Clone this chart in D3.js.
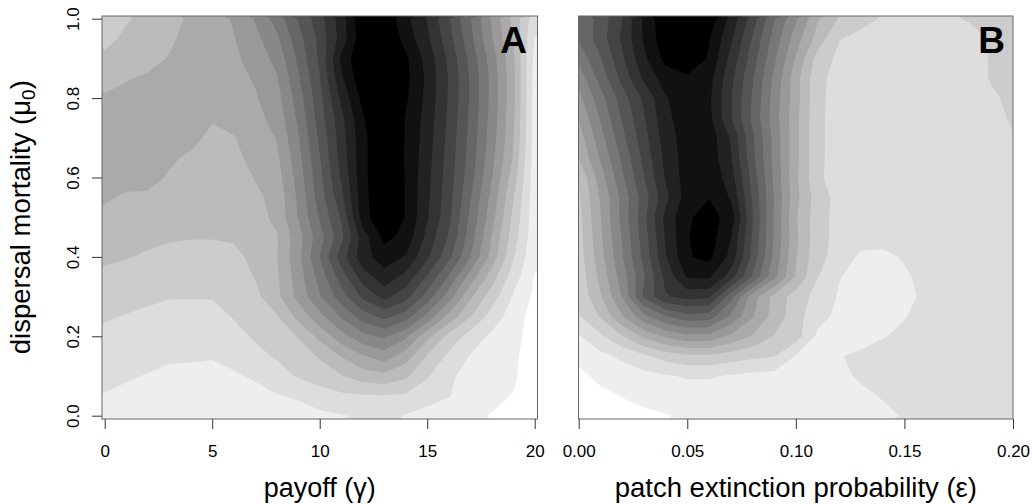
<!DOCTYPE html>
<html>
<head>
<meta charset="utf-8">
<script src="https://cdn.jsdelivr.net/npm/d3@7"></script>
<style>
  html,body{margin:0;padding:0;background:#ffffff;}
  svg text{font-family:"Liberation Sans",Arial,Helvetica,sans-serif;fill:#000;}
</style>
</head>
<body>
<svg id="chart" width="1032" height="504" xmlns="http://www.w3.org/2000/svg"></svg>
<script>
// ---------------- data ----------------
const payoffGrid = [0,1,2,3,4,5,6,7,8,9,10,11,12,13,14,15,16,17,18,19,20];
const extinctionGrid = [0,0.01,0.02,0.03,0.04,0.05,0.06,0.07,0.08,0.09,0.10,0.11,0.12,0.13,0.14,0.15,0.16,0.17,0.18,0.19,0.20];
const mortalityGrid = [1.00,0.95,0.90,0.85,0.80,0.75,0.70,0.65,0.60,0.55,0.50,0.45,0.40,0.35,0.30,0.25,0.20,0.15,0.10,0.05,0.00];
const payoffTicks = [0,5,10,15,20];
const extinctionTicks = [0,0.05,0.10,0.15,0.20];
const mortalityTicks = [0,0.2,0.4,0.6,0.8,1.0];
const grayLevels = ["#000000","#111111","#222222","#333333","#444444","#555555","#666666","#777777",
                    "#888888","#999999","#aaaaaa","#bbbbbb","#cccccc","#dddddd","#eeeeee","#ffffff"];
const bandThresholds = [0.5,1.5,2.5,3.5,4.5,5.5,6.5,7.5,8.5,9.5,10.5,11.5,12.5,13.5,14.5];

// grey level (0 = black ... 15 = white); rows from mu0 = 1.0 down to 0.0
const panelALevels = [
 [12.0,11.6,11.2,10.8,10.35,9.9,9.4,8.4,7.1,5.45,3.9,2.0,-0.3,-0.3,1.2,2.55,4.4,6.45,8.65,10.8,13.1],
 [11.8,11.3,11.0,10.65,10.2,9.85,9.55,8.8,7.7,5.9,4.2,2.1,-0.2,-0.6,0.9,2.3,4.1,6.2,8.4,10.6,13.55],
 [11.3,10.9,10.75,10.45,10.05,9.8,9.7,9.1,8.2,6.3,4.3,1.3,-0.5,-0.8,0.3,1.9,3.7,5.8,8.0,10.3,13.8],
 [10.8,10.55,10.4,10.25,9.95,9.8,9.85,9.4,8.6,6.65,4.55,1.7,-0.3,-0.8,0.2,1.7,3.55,5.6,7.8,10.2,13.9],
 [10.4,10.3,10.2,10.1,9.9,9.9,10.0,9.6,8.9,7.0,4.8,2.3,0.2,-0.6,0.35,1.8,3.6,5.6,7.8,10.2,13.95],
 [10.2,10.15,10.05,9.95,9.9,10.4,10.2,9.8,9.15,7.3,5.0,2.8,0.6,-0.5,0.55,1.9,3.7,5.7,7.9,10.3,14.0],
 [10.1,10.05,9.95,10.05,10.2,10.75,10.55,10.0,9.45,7.6,5.3,3.0,0.8,-0.5,0.55,2.0,3.8,5.8,8.0,10.4,14.0],
 [10.1,10.05,9.95,10.35,10.65,10.95,10.75,10.2,9.7,7.85,5.55,3.1,0.8,-0.5,0.6,2.1,3.9,5.9,8.2,10.6,14.0],
 [10.2,10.25,10.2,10.6,10.9,11.1,10.95,10.45,9.95,8.1,5.8,3.4,0.8,-0.5,0.55,2.2,4.0,6.1,8.45,11.0,14.05],
 [10.4,10.6,10.65,10.85,11.1,11.25,11.1,10.7,10.2,8.3,6.0,3.8,0.9,-0.5,0.55,2.3,4.1,6.4,8.8,11.4,14.1],
 [10.7,10.9,10.95,11.1,11.3,11.4,11.25,10.9,10.25,8.45,6.4,4.4,1.0,-0.5,0.55,2.4,4.25,6.7,9.1,11.75,14.1],
 [11.0,11.2,11.3,11.4,11.45,11.45,11.4,11.1,10.6,8.9,6.9,4.8,2.0,0.2,0.8,2.8,4.6,7.0,9.55,12.0,14.2],
 [11.35,11.45,11.6,11.75,11.85,11.85,11.7,11.3,10.55,8.8,6.5,4.0,1.9,1.0,1.6,3.3,5.2,7.45,9.9,12.4,14.35],
 [11.7,11.8,11.95,12.1,12.1,12.2,12.0,11.45,10.65,9.0,7.1,5.0,3.0,1.9,2.8,4.6,6.6,8.9,11.0,13.0,14.55],
 [12.0,12.15,12.3,12.45,12.45,12.45,12.25,11.75,10.8,9.2,7.6,6.0,4.3,3.2,4.1,5.9,8.0,10.3,12.0,13.6,14.7],
 [12.4,12.55,12.7,12.8,12.8,12.8,12.45,12.1,11.6,10.2,8.8,7.4,6.0,5.2,6.0,7.8,9.8,11.45,12.9,14.0,14.9],
 [12.7,12.8,12.95,13.1,13.05,13.1,12.75,12.4,12.0,11.45,10.2,8.9,7.8,7.3,8.3,10.2,11.8,12.9,13.7,14.05,15.1],
 [13.0,13.05,13.2,13.4,13.4,13.45,13.25,12.75,12.4,11.95,11.4,10.45,9.6,9.0,10.0,11.6,12.7,13.55,14.1,14.25,15.2],
 [13.25,13.4,13.55,13.65,13.7,13.7,13.6,13.4,12.9,12.4,12.0,11.55,11.0,10.8,11.3,12.4,13.3,13.9,14.3,14.3,15.3],
 [13.55,13.7,13.8,13.85,13.9,13.9,13.85,13.75,13.55,13.4,13.0,12.7,12.6,12.55,12.65,13.1,13.45,14.0,14.25,14.55,15.4],
 [13.8,13.9,14.0,14.0,14.05,14.05,14.0,13.95,13.9,13.8,13.7,13.55,13.4,13.3,13.55,13.85,14.1,14.3,14.55,14.9,15.5]
];

// grey level; rows from mu0 = 1.0 down to 0.0
const panelBLevels = [
 [6.4,5.1,3.55,1.3,-0.3,-0.8,-0.2,1.8,4.0,6.4,8.35,10.4,11.6,12.2,12.6,12.8,12.75,12.6,12.45,12.3,12.1],
 [6.4,5.0,3.3,1.4,-0.2,-0.6,0.45,2.3,4.6,6.9,9.0,10.9,12.45,12.75,12.95,13.0,12.95,12.85,12.7,12.45,12.2],
 [7.2,5.55,3.7,1.7,0.2,-0.2,0.6,2.8,5.0,7.3,9.6,11.9,12.75,12.95,13.05,13.05,13.0,12.9,12.75,12.45,12.2],
 [8.1,6.1,4.2,2.3,1.0,0.65,1.1,3.2,5.4,7.7,10.1,12.25,12.85,13.0,13.05,13.05,13.05,12.95,12.8,12.45,12.25],
 [8.8,6.9,5.0,3.3,1.6,0.8,1.3,3.4,5.6,7.9,10.1,12.25,12.9,13.05,13.1,13.1,13.05,13.0,12.9,12.6,12.35],
 [9.45,7.4,5.4,3.6,1.8,0.85,1.2,3.4,5.7,8.0,10.2,12.3,12.9,13.05,13.1,13.1,13.05,13.0,12.95,12.75,12.4],
 [10.0,7.9,5.8,3.9,2.0,1.0,0.9,2.6,5.3,7.8,10.2,12.3,12.9,13.05,13.1,13.1,13.05,13.0,12.95,12.85,12.55],
 [10.45,8.4,6.3,4.2,2.2,1.0,0.85,2.4,5.2,7.8,10.2,12.3,12.9,13.05,13.1,13.1,13.05,13.0,13.0,12.9,12.7],
 [11.4,9.0,6.7,4.55,2.4,1.0,0.75,2.0,4.9,7.7,10.3,12.35,12.9,13.05,13.1,13.1,13.05,13.0,13.0,12.95,12.85],
 [11.65,9.4,7.2,5.0,2.8,1.0,0.55,1.6,4.6,7.55,10.2,12.0,12.85,13.05,13.1,13.1,13.05,13.0,13.0,13.0,12.95],
 [11.8,9.55,7.2,4.8,2.2,0.65,0.1,0.9,4.4,7.6,10.4,12.1,12.85,13.05,13.1,13.1,13.05,13.0,13.0,13.0,13.0],
 [11.9,9.7,7.4,5.0,2.4,0.55,0.0,1.45,4.6,7.6,10.3,12.1,12.85,13.05,13.1,13.1,13.05,13.0,13.0,13.0,13.0],
 [12.0,9.9,7.6,5.2,2.6,0.6,0.2,1.8,4.8,7.8,10.4,12.2,12.9,13.7,13.75,13.4,13.1,13.0,13.0,13.0,13.0],
 [12.15,10.2,8.0,5.6,3.2,1.4,1.3,3.0,5.6,8.2,10.6,12.45,13.45,13.85,13.9,13.65,13.2,13.05,13.0,13.0,13.0],
 [12.3,10.6,8.45,5.3,3.6,3.15,3.3,6.1,9.0,10.8,11.95,12.85,13.6,13.9,13.95,13.75,13.3,13.1,13.0,13.0,13.0],
 [12.6,11.4,9.6,7.8,6.55,5.85,6.0,7.7,9.4,10.9,12.1,13.15,13.75,13.95,13.95,13.55,13.2,13.05,13.0,13.0,13.0],
 [13.6,12.7,11.55,10.3,9.3,8.75,8.8,9.7,10.6,11.55,12.05,13.7,14.0,13.9,13.55,13.3,13.15,13.05,13.0,13.0,13.0],
 [14.2,13.75,13.3,12.7,12.1,11.7,11.7,12.0,12.3,12.45,13.55,13.9,13.55,13.3,13.15,13.05,13.0,13.0,13.0,13.0,13.0],
 [14.8,14.2,14.0,13.8,13.6,13.4,13.4,13.6,13.75,13.85,13.9,13.85,13.65,13.4,13.2,13.1,13.05,13.0,13.0,13.0,13.0],
 [15.2,14.8,14.45,14.2,14.1,14.0,14.0,14.0,14.0,14.0,14.0,13.95,13.85,13.65,13.45,13.25,13.1,13.05,13.0,13.0,13.0],
 [15.5,15.2,14.95,14.7,14.55,14.35,14.3,14.25,14.2,14.15,14.1,14.05,14.0,13.85,13.65,13.45,13.25,13.1,13.05,13.0,13.0]
];

// ---------------- layout ----------------
const svg = d3.select("#chart");
const plotTop = 16, plotBottom = 419;
const plotA = {left: 102, right: 537.5};
const plotB = {left: 578.5, right: 1013};
const yScale = d3.scaleLinear().domain([0, 1]).range([415.7, 18.7]);
const xScaleA = d3.scaleLinear().domain([0, 20]).range([104.7, 534.7]);
const xScaleB = d3.scaleLinear().domain([0, 0.2]).range([578.7, 1013]);

// where d3.contours puts a grid value inside its cell (calibration of the library convention)
const probe = d3.contours().size([2, 1]).thresholds([0.5])([0, 1]);
let probeMin = Infinity;
probe[0].coordinates.forEach(poly => poly.forEach(ring => ring.forEach(p => { if (p[0] < probeMin) probeMin = p[0]; })));
const cellOffset = probeMin - 0.5;

const defs = svg.append("defs");

function drawPanel(id, levels, gx, gy, xScale, plot) {
  const nx = gx.length, ny = gy.length;
  const values = [].concat(...levels);
  const stepX = gx[1] - gx[0], stepY = gy[1] - gy[0];
  const px = c => c <= 0 ? plot.left - 6 : (c >= nx ? plot.right + 6 : xScale(gx[0] + (c - cellOffset) * stepX));
  const py = c => c <= 0 ? plotTop - 6 : (c >= ny ? plotBottom + 6 : yScale(gy[0] + (c - cellOffset) * stepY));
  const proj = d3.geoTransform({ point(x, y) { this.stream.point(px(x), py(y)); } });
  const path = d3.geoPath(proj);

  defs.append("clipPath").attr("id", "clip" + id)
    .append("rect").attr("x", plot.left).attr("y", plotTop)
    .attr("width", plot.right - plot.left).attr("height", plotBottom - plotTop);

  const g = svg.append("g").attr("clip-path", "url(#clip" + id + ")");
  g.append("rect").attr("x", plot.left).attr("y", plotTop)
    .attr("width", plot.right - plot.left).attr("height", plotBottom - plotTop)
    .attr("fill", grayLevels[0]);

  const bands = d3.contours().size([nx, ny]).thresholds(bandThresholds)(values);
  g.selectAll("path.band").data(bands).join("path")
    .attr("class", "band")
    .attr("d", path)
    .attr("fill", d => grayLevels[Math.round(d.value + 0.5)]);

  svg.append("rect").attr("x", plot.left).attr("y", plotTop)
    .attr("width", plot.right - plot.left).attr("height", plotBottom - plotTop)
    .attr("fill", "none").attr("stroke", "#666").attr("stroke-width", 1);
}

drawPanel("A", panelALevels, payoffGrid, mortalityGrid, xScaleA, plotA);
drawPanel("B", panelBLevels, extinctionGrid, mortalityGrid, xScaleB, plotB);

// ---------------- axes ----------------
function styleAxis(g, size) {
  g.select(".domain").remove();
  g.selectAll(".tick line").attr("stroke", "#333");
  g.selectAll(".tick text").attr("font-size", size)
    .attr("font-family", '"Liberation Sans",Arial,Helvetica,sans-serif').attr("fill", "#000");
  g.attr("font-family", null).attr("font-size", null);
}

const axA = svg.append("g").attr("transform", "translate(0," + plotBottom + ")")
  .call(d3.axisBottom(xScaleA).tickValues(payoffTicks).tickSize(10).tickPadding(16).tickFormat(d3.format("d")));
styleAxis(axA, 17);

const axB = svg.append("g").attr("transform", "translate(0," + plotBottom + ")")
  .call(d3.axisBottom(xScaleB).tickValues(extinctionTicks).tickSize(10).tickPadding(16).tickFormat(d3.format(".2f")));
styleAxis(axB, 17);

const axY = svg.append("g").attr("transform", "translate(" + plotA.left + ",0)")
  .call(d3.axisLeft(yScale).tickValues(mortalityTicks).tickSize(10).tickFormat(d3.format(".1f")));
styleAxis(axY, 17);
axY.selectAll(".tick text")
  .attr("x", null).attr("dy", null)
  .attr("text-anchor", "middle")
  .attr("transform", "translate(-23,0) rotate(-90)");

// ---------------- titles ----------------
svg.append("text").attr("x", xScaleA(10)).attr("y", 497)
  .attr("text-anchor", "middle").attr("font-size", 27).text("payoff (\u03B3)");
svg.append("text").attr("x", xScaleB(0.1)).attr("y", 497)
  .attr("text-anchor", "middle").attr("font-size", 27.5).text("patch extinction probability (\u03B5)");

const yt = svg.append("text")
  .attr("transform", "translate(30," + yScale(0.5) + ") rotate(-90)")
  .attr("text-anchor", "middle").attr("font-size", 27.5);
yt.append("tspan").text("dispersal mortality (\u03BC");
yt.append("tspan").attr("font-size", 19).attr("dy", 5).text("0");
yt.append("tspan").attr("dy", -5).text(")");

svg.append("text").attr("x", 513.5).attr("y", 53.3).attr("text-anchor", "middle")
  .attr("font-size", 37).attr("font-weight", "bold").text("A");
svg.append("text").attr("x", 991.5).attr("y", 53.3).attr("text-anchor", "middle")
  .attr("font-size", 37).attr("font-weight", "bold").text("B");
</script>
</body>
</html>
